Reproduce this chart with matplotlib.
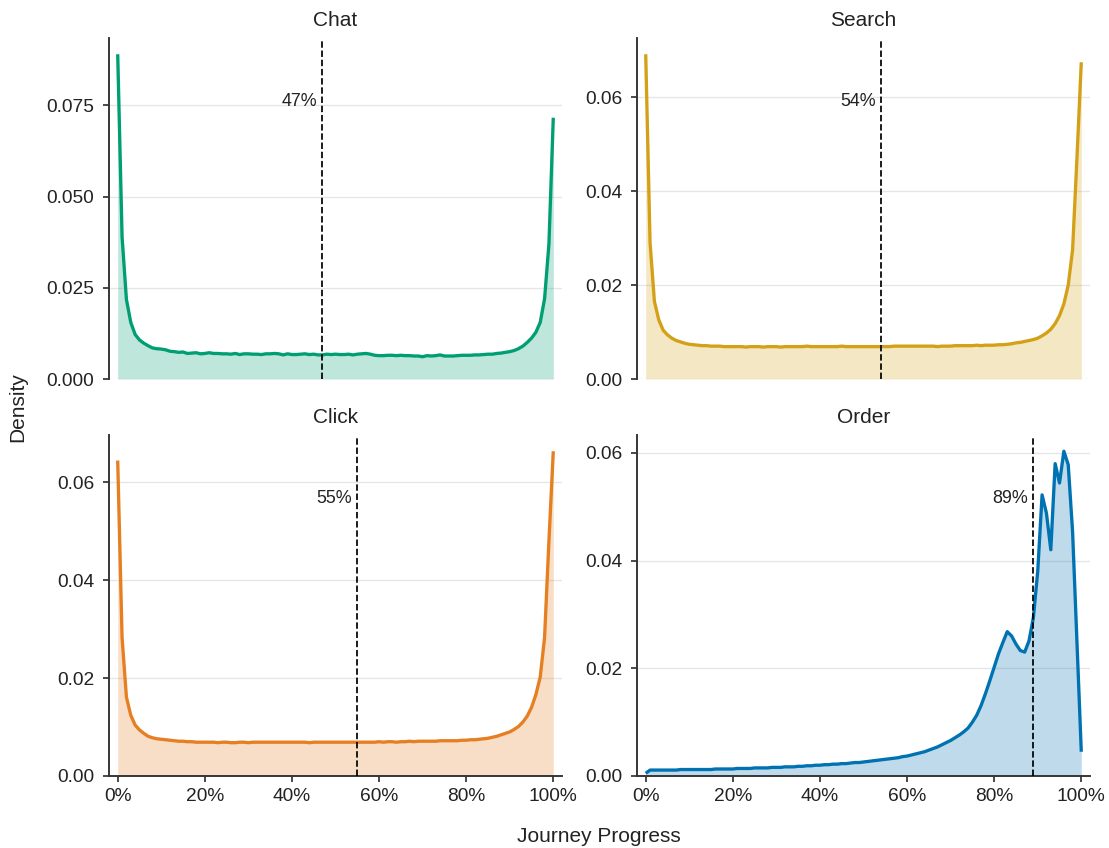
import numpy as np
import matplotlib
matplotlib.use("Agg")
import matplotlib.pyplot as plt
from matplotlib.ticker import PercentFormatter, MultipleLocator, FormatStrFormatter

plt.rcParams['font.family'] = ['Liberation Sans', 'DejaVu Sans']

# ---------------- data ----------------
progress = np.linspace(0, 1, 101)

panels = ["Chat", "Search", "Click", "Order"]
colors = ["#009E73", "#D4A017", "#E67E22", "#0072B2"]
medians = [0.47, 0.54, 0.55, 0.89]
median_labels = ["47%", "54%", "55%", "89%"]

chat_density = [
    0.0890, 0.0390, 0.0218, 0.0155, 0.0122, 0.0107, 0.0098, 0.0091, 0.0085, 0.0083,
    0.0082, 0.0080, 0.0076, 0.0075, 0.0073, 0.0074, 0.0070, 0.0071, 0.0072, 0.0069,
    0.0070, 0.0072, 0.0070, 0.0070, 0.0069, 0.0069, 0.0068, 0.0070, 0.0067, 0.0069,
    0.0069, 0.0068, 0.0068, 0.0067, 0.0069, 0.0069, 0.0070, 0.0069, 0.0066, 0.0069,
    0.0067, 0.0067, 0.0068, 0.0069, 0.0067, 0.0068, 0.0066, 0.0066, 0.0068, 0.0067,
    0.0068, 0.0067, 0.0067, 0.0068, 0.0066, 0.0068, 0.0069, 0.0070, 0.0068, 0.0065,
    0.0064, 0.0064, 0.0065, 0.0065, 0.0064, 0.0065, 0.0064, 0.0064, 0.0063, 0.0063,
    0.0061, 0.0064, 0.0063, 0.0064, 0.0066, 0.0063, 0.0063, 0.0063, 0.0064, 0.0065,
    0.0065, 0.0065, 0.0066, 0.0066, 0.0067, 0.0068, 0.0068, 0.0070, 0.0071, 0.0073,
    0.0075, 0.0078, 0.0083, 0.0090, 0.0100, 0.0112, 0.0128, 0.0155, 0.0220, 0.0370,
    0.0716,
]

search_density = [
    0.0692, 0.0290, 0.0165, 0.0126, 0.0104, 0.0094, 0.0087, 0.0082, 0.0079, 0.0076,
    0.0074, 0.0073, 0.0072, 0.0071, 0.0071, 0.0070, 0.0070, 0.0070, 0.0069, 0.0069,
    0.0069, 0.0069, 0.0069, 0.0068, 0.0069, 0.0069, 0.0069, 0.0068, 0.0069, 0.0069,
    0.0069, 0.0068, 0.0069, 0.0069, 0.0069, 0.0069, 0.0069, 0.0070, 0.0069, 0.0069,
    0.0069, 0.0069, 0.0069, 0.0069, 0.0069, 0.0070, 0.0069, 0.0069, 0.0069, 0.0069,
    0.0069, 0.0069, 0.0069, 0.0069, 0.0069, 0.0069, 0.0069, 0.0070, 0.0070, 0.0070,
    0.0070, 0.0070, 0.0070, 0.0070, 0.0070, 0.0070, 0.0070, 0.0069, 0.0070, 0.0070,
    0.0070, 0.0071, 0.0071, 0.0071, 0.0071, 0.0071, 0.0072, 0.0071, 0.0072, 0.0072,
    0.0072, 0.0073, 0.0073, 0.0074, 0.0075, 0.0077, 0.0078, 0.0080, 0.0082, 0.0084,
    0.0087, 0.0092, 0.0098, 0.0106, 0.0118, 0.0135, 0.0160, 0.0200, 0.0275, 0.0470,
    0.0675,
]

click_density = [
    0.0644, 0.0283, 0.0161, 0.0124, 0.0104, 0.0094, 0.0087, 0.0081, 0.0078, 0.0076,
    0.0075, 0.0074, 0.0073, 0.0072, 0.0071, 0.0071, 0.0070, 0.0070, 0.0069, 0.0069,
    0.0069, 0.0069, 0.0069, 0.0068, 0.0069, 0.0069, 0.0068, 0.0068, 0.0069, 0.0069,
    0.0068, 0.0069, 0.0069, 0.0069, 0.0069, 0.0069, 0.0069, 0.0069, 0.0069, 0.0069,
    0.0069, 0.0069, 0.0069, 0.0069, 0.0068, 0.0069, 0.0069, 0.0069, 0.0069, 0.0069,
    0.0069, 0.0069, 0.0069, 0.0069, 0.0069, 0.0069, 0.0069, 0.0069, 0.0069, 0.0069,
    0.0070, 0.0069, 0.0070, 0.0070, 0.0069, 0.0070, 0.0070, 0.0071, 0.0070, 0.0071,
    0.0071, 0.0071, 0.0071, 0.0071, 0.0072, 0.0072, 0.0072, 0.0072, 0.0072, 0.0073,
    0.0073, 0.0074, 0.0074, 0.0075, 0.0076, 0.0077, 0.0079, 0.0081, 0.0084, 0.0087,
    0.0090, 0.0095, 0.0101, 0.0110, 0.0122, 0.0140, 0.0166, 0.0202, 0.0283, 0.0480,
    0.0663,
]

order_density = [
    0.0005, 0.0011, 0.0011, 0.0011, 0.0011, 0.0011, 0.0011, 0.0011, 0.0012, 0.0012,
    0.0012, 0.0012, 0.0012, 0.0012, 0.0012, 0.0012, 0.0013, 0.0013, 0.0013, 0.0013,
    0.0013, 0.0014, 0.0014, 0.0014, 0.0014, 0.0015, 0.0015, 0.0015, 0.0015, 0.0016,
    0.0016, 0.0016, 0.0017, 0.0017, 0.0017, 0.0018, 0.0018, 0.0019, 0.0019, 0.0020,
    0.0020, 0.0021, 0.0021, 0.0022, 0.0022, 0.0023, 0.0023, 0.0024, 0.0025, 0.0025,
    0.0026, 0.0027, 0.0028, 0.0029, 0.0030, 0.0031, 0.0032, 0.0033, 0.0034, 0.0036,
    0.0037, 0.0039, 0.0041, 0.0043, 0.0045, 0.0048, 0.0051, 0.0054, 0.0058, 0.0062,
    0.0066, 0.0071, 0.0076, 0.0082, 0.0089, 0.0100, 0.0113, 0.0131, 0.0153, 0.0177,
    0.0202, 0.0227, 0.0248, 0.0268, 0.0260, 0.0245, 0.0233, 0.0230, 0.0251, 0.0294,
    0.0380, 0.0522, 0.0488, 0.0420, 0.0580, 0.0544, 0.0603, 0.0578, 0.0454, 0.0250,
    0.0045,
]

densities = [chat_density, search_density, click_density, order_density]
x_ticks = [0, 0.2, 0.4, 0.6, 0.8, 1.0]

# ---------------- figure ----------------
fig = plt.figure(figsize=(8.872, 6.784), dpi=125)

W, H = 1109, 848
col_x = [109 / W, 637 / W]
row_y = [(H - 379) / H, (H - 776) / H]
aw, ah = 453 / W, 341 / H

spine_col = "#333333"
text_col = "#222222"

for i, (name, col, med, mlab, dens) in enumerate(zip(panels, colors, medians, median_labels, densities)):
    r, c = divmod(i, 2)
    ax = fig.add_axes([col_x[c], row_y[r], aw, ah])
    y = np.array(dens)
    ax.fill_between(progress, 0, y, color=col, alpha=0.25, linewidth=0, zorder=2)
    ax.plot(progress, y, color=col, linewidth=1.9, zorder=3, solid_capstyle='butt')
    ax.axvline(med, ymax=0.99, color="black", linestyle="--", linewidth=1.0, zorder=4)
    ax.text(med - 0.012, 0.815, mlab, transform=ax.get_xaxis_transform(),
            ha="right", va="center", fontsize=10.3, color=text_col)

    ax.set_xlim(-0.02, 1.02)
    ax.set_ylim(bottom=0)
    ax.set_xticks(x_ticks)
    ax.xaxis.set_major_formatter(PercentFormatter(1.0, decimals=0))
    if i == 0:
        ax.yaxis.set_major_locator(MultipleLocator(0.025))
        ax.yaxis.set_major_formatter(FormatStrFormatter("%.3f"))
    else:
        ax.yaxis.set_major_locator(MultipleLocator(0.02))
        ax.yaxis.set_major_formatter(FormatStrFormatter("%.2f"))

    ax.set_title(name, fontsize=12, color=text_col, pad=6.8)
    ax.grid(axis="y", color="#e6e6e6", linewidth=0.8, zorder=0)
    ax.set_axisbelow(True)
    for s in ["top", "right"]:
        ax.spines[s].set_visible(False)
    ax.spines["left"].set_color(spine_col)
    ax.spines["bottom"].set_color(spine_col)
    ax.spines["left"].set_linewidth(1.1)
    ax.spines["bottom"].set_linewidth(1.1)
    ax.tick_params(axis="y", labelsize=11, colors=spine_col, labelcolor=text_col,
                   length=3.5, width=1.0, pad=5)
    ax.tick_params(axis="x", labelsize=11, colors=spine_col, labelcolor=text_col,
                   length=3.5, width=1.0, pad=3.5)
    if r == 0:
        ax.spines["bottom"].set_visible(False)
        ax.tick_params(axis="x", bottom=False, labelbottom=False)

fig.text(18 / W, (H - 407) / H, "Density", rotation=90, ha="center", va="center",
         fontsize=12, color=text_col)
fig.text(599 / W, 1 - 836 / H, "Journey Progress", ha="center", va="center",
         fontsize=12, color=text_col)

fig.savefig("out.png", dpi=125)
